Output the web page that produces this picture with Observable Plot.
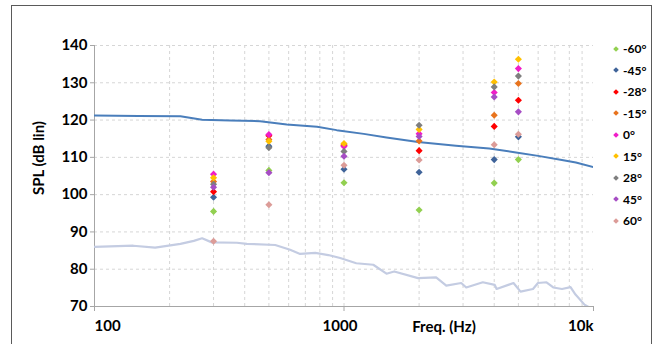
<!DOCTYPE html>
<html>
<head>
<meta charset="utf-8">
<script src="https://cdn.jsdelivr.net/npm/d3@7"></script>
<script src="https://cdn.jsdelivr.net/npm/@observablehq/plot@0.6"></script>
<style>
  html, body { margin: 0; padding: 0; background: #fff; }
  #wrap { position: relative; width: 657px; height: 344px; overflow: hidden; font-family: Lato, "Open Sans", sans-serif; font-weight: bold; color: #000; }
  #wrap svg { position: absolute; left: 0; top: 0; }
  #frame { position: absolute; left: 11px; top: 5px; width: 641px; height: 420px; border: 1.5px solid #5a5a5a; box-sizing: border-box; }
  .lab { position: absolute; font-size: 15px; white-space: nowrap; }
  #legend { position: absolute; left: 611px; top: 38px; font-size: 12px; }
  .item { height: 21.5px; display: flex; align-items: center; }
  .mk { width: 4px; height: 4px; transform: rotate(45deg); margin-right: 5px; margin-left: 3px; }
</style>
</head>
<body>
<div id="wrap">
  <div id="frame"></div>
</div>
<script>
// ---- data ----
const freqs = [300, 500, 1000, 2000, 4000, 5000];
const angles = ["-60°", "-45°", "-28°", "-15°", "0°", "15°", "28°", "45°", "60°"];
const splM60 = [95.5, 106.5, 103.2, 95.9, 103.1, 109.4];
const splM45 = [99.3, 113.0, 106.8, 106.0, 109.4, 115.5];
const splM28 = [100.8, 115.8, 113.2, 111.8, 118.3, 125.3];
const splM15 = [103.5, 114.8, 113.4, 114.4, 121.3, 129.8];
const spl0   = [105.5, 116.1, 112.9, 116.3, 127.4, 133.8];
const splP15 = [104.5, 114.3, 113.7, 117.5, 130.2, 136.3];
const splP28 = [102.8, 112.6, 111.6, 118.6, 128.9, 131.8];
const splP45 = [102.0, 105.9, 110.3, 115.6, 126.2, 122.2];
const splP60 = [87.5, 97.3, 107.9, 109.3, 113.4, 116.2];
const angleColors = ["#92d050", "#3f6399", "#ff0000", "#e8731d", "#f01dc8", "#ffc000", "#7f7f7f", "#a64dc4", "#dc9c98"];

const upperFreq = [100, 150, 221, 270, 350, 461, 590, 780, 935, 1200, 1480, 1980, 2810, 3820, 4890, 6000, 7470, 8500, 10000];
const upperSpl  = [121.2, 121.1, 121.0, 120.1, 119.9, 119.7, 118.8, 118.2, 117.3, 116.3, 115.3, 114.1, 113.1, 112.4, 111.3, 110.4, 109.3, 108.6, 107.4];

const lowerFreq = [100, 143, 175, 221, 250, 270, 295, 372, 408, 530, 608, 667, 767, 865, 965, 1120, 1310, 1480, 1590, 1980, 2340, 2570, 2950, 3090, 3600, 4020, 4090, 4780, 5100, 5720, 5990, 6480, 6900, 7480, 8090, 8470, 9200, 9650, 10000];
const lowerSpl  = [86.0, 86.3, 85.8, 86.8, 87.6, 88.3, 87.2, 87.1, 86.8, 86.5, 85.2, 84.1, 84.4, 83.8, 83.0, 81.6, 81.2, 78.8, 79.4, 77.6, 77.8, 75.6, 76.3, 75.1, 76.5, 75.8, 74.7, 76.3, 74.0, 74.7, 76.3, 76.5, 75.1, 74.7, 75.2, 73.2, 70.5, 69.7, 69.5];

const yTicks = [70, 80, 90, 100, 110, 120, 130, 140];
const xTicks = [100, 1000, 10000];
const xTickLabels = ["100", "1000", "10k"];
const xGrid = [200, 300, 400, 500, 600, 700, 800, 900, 1000, 2000, 3000, 4000, 5000, 6000, 7000, 8000, 9000];
const xTitle = "Freq. (Hz)";
const yTitle = "SPL (dB lin)";

// ---- tables ----
const series = [splM60, splM45, splM28, splM15, spl0, splP15, splP28, splP45, splP60];
const points = [];
series.forEach((vals, i) => vals.forEach((v, j) => points.push({angle: angles[i], freq: freqs[j], spl: v})));
const upper = upperFreq.map((f, i) => ({freq: f, spl: upperSpl[i]}));
const lower = lowerFreq.map((f, i) => ({freq: f, spl: lowerSpl[i]}));
const xLab = xTicks.map((t, i) => ({t, label: xTickLabels[i]}));

const chart = Plot.plot({
  width: 657,
  height: 344,
  marginLeft: 94,
  marginRight: 64,
  marginTop: 45,
  marginBottom: 38,
  x: {type: "log", domain: [100, 10000]},
  y: {domain: [70, 140]},
  color: {domain: angles, range: angleColors},
  style: {fontFamily: "Lato, 'Open Sans', sans-serif", fontSize: "15px", fontWeight: "bold", color: "#000", background: "transparent", overflow: "visible"},
  marks: [
    Plot.gridY(yTicks, {stroke: "#d6d6d6", strokeOpacity: 1, strokeDasharray: "3,3"}),
    Plot.gridX(xGrid, {stroke: "#d6d6d6", strokeOpacity: 1, strokeDasharray: "3,3"}),
    Plot.ruleX([100], {stroke: "#a6a6a6"}),
    Plot.ruleY([70], {stroke: "#a6a6a6"}),
    Plot.axisY(yTicks, {tickSize: 4, tickPadding: 3, label: null, stroke: "#a6a6a6", fill: "#000"}),
    Plot.axisX(xTicks, {tickSize: 5, tickFormat: () => "", label: null, stroke: "#a6a6a6"}),
    Plot.text(xLab.slice(0, 1), {x: "t", text: "label", frameAnchor: "bottom", dy: 20, lineAnchor: "middle", textAnchor: "start", fill: "#000"}),
    Plot.text(xLab.slice(1, 2), {x: "t", text: "label", frameAnchor: "bottom", dy: 20, dx: -4, lineAnchor: "middle", textAnchor: "middle", fill: "#000"}),
    Plot.text(xLab.slice(2), {x: "t", text: "label", frameAnchor: "bottom", dy: 20, lineAnchor: "middle", textAnchor: "end", fill: "#000"}),
    Plot.line(lower, {x: "freq", y: "spl", stroke: "#c4cce2", strokeWidth: 2.2, clip: true}),
    Plot.line(upper, {x: "freq", y: "spl", stroke: "#4a7ebb", strokeWidth: 2, clip: true}),
    Plot.dot(points, {x: "freq", y: "spl", fill: "angle", symbol: "diamond2", r: 3.2, stroke: null})
  ]
});

const wrap = document.getElementById("wrap");
wrap.insertBefore(chart, wrap.firstChild);

// axis titles
const yl = document.createElement("div");
yl.className = "lab";
yl.textContent = yTitle;
yl.style.left = "38px"; yl.style.top = "158px";
yl.style.transform = "translate(-50%,-50%) rotate(-90deg)";
wrap.appendChild(yl);

const xl = document.createElement("div");
xl.className = "lab";
xl.textContent = xTitle;
xl.style.left = "444px"; xl.style.top = "326px";
xl.style.transform = "translate(-50%,-50%)";
wrap.appendChild(xl);

// legend
const lg = document.createElement("div");
lg.id = "legend";
angles.forEach((a, i) => {
  const it = document.createElement("div");
  it.className = "item";
  const mk = document.createElement("span");
  mk.className = "mk";
  mk.style.background = angleColors[i];
  const tx = document.createElement("span");
  tx.textContent = a;
  it.appendChild(mk); it.appendChild(tx);
  lg.appendChild(it);
});
wrap.appendChild(lg);
</script>
</body>
</html>
